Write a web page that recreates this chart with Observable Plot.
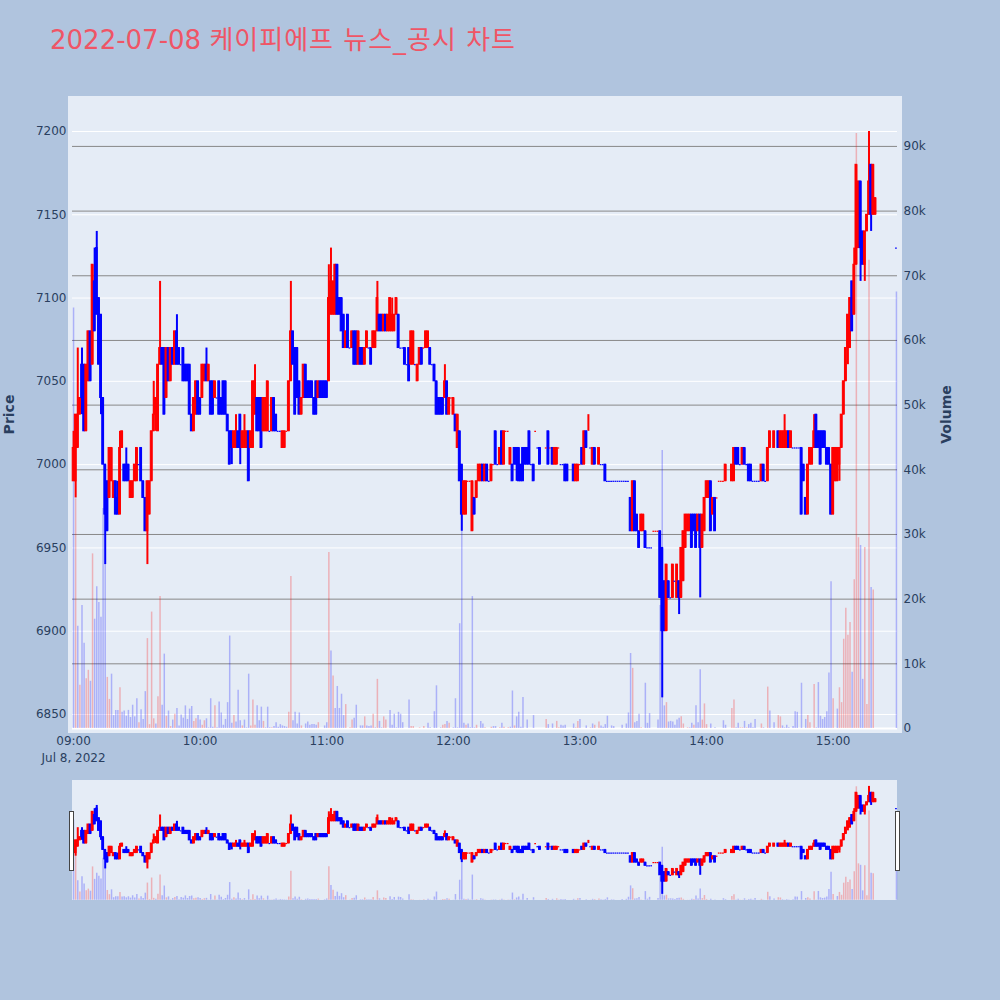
<!DOCTYPE html>
<html lang="ko"><head><meta charset="utf-8">
<script src="https://cdn.jsdelivr.net/npm/d3@7"></script>
<script src="https://cdn.jsdelivr.net/npm/@observablehq/plot@0.6"></script>
<style>
html,body{margin:0;padding:0;background:#B0C4DE;width:1000px;height:1000px;overflow:hidden}
#stage{position:relative;width:1000px;height:1000px;font-family:"DejaVu Sans","Noto Sans CJK KR",sans-serif}
#title{position:absolute;left:50px;top:22px;font-size:26px;line-height:36px;color:#EF5566;font-family:"DejaVu Sans","Noto Sans CJK KR",sans-serif;white-space:nowrap}
#title span{letter-spacing:1px}
.plate{position:absolute;background:#E5ECF6}
.grab{position:absolute;background:#fff;border:1px solid #444;box-sizing:border-box}
</style></head><body><div id="stage">
<div id="title">2022-07-08 <span>케이피에프 뉴스_공시 차트</span></div>
<div class="plate" style="left:68px;top:96px;width:834px;height:637px"></div>
<div class="plate" style="left:72px;top:780px;width:825px;height:120px"></div>
</div>
<script>
// rows: open, high, low, close, volume, volume colour (1 red, 0 blue); null = no trade in that minute
const hour09=[
[6990,7020,6990,7010,65000,0],[6990,7030,6980,7030,35500,1],[7010,7070,7010,7030,15800,0],[7030,7040,7030,7040,6700,1],[7060,7070,7030,7040,19000,0],[7060,7060,7020,7020,13200,0],[7020,7060,7020,7060,7700,1],[7050,7080,7050,7080,9000,1],[7080,7080,7050,7050,7300,0],[7060,7120,7060,7120,27000,1],
[7110,7130,7080,7080,16900,0],[7130,7140,7090,7090,21900,0],[7100,7100,7060,7060,19500,0],[7090,7090,7030,7040,17200,0],[7040,7040,7000,7000,34000,0],[7000,7000,6940,6970,25500,0],[6990,6990,6960,6960,7900,1],[6980,7010,6980,7010,4500,1],[6990,7010,6990,7010,8400,0],[6980,6990,6980,6990,2000,0],
[6990,6990,6970,6970,2800,0],[6980,6990,6970,6970,2800,0],[6970,7020,6970,7010,6300,1],[7010,7020,7010,7020,2500,0],[7000,7000,6990,6990,2700,0],[7000,7010,6990,6990,1900,0],[7000,7000,6990,6990,2800,0],[6980,6990,6980,6990,1700,0],[6980,6990,6980,6990,3600,0],[6990,7000,6990,7000,1800,0],
[6990,7010,6990,7010,4600,0],[7000,7000,7000,7000,900,1],[7010,7010,6990,6990,2900,0],[6990,6990,6980,6980,1400,0],[6980,6980,6960,6960,5700,0],[6960,6990,6940,6990,13900,1],[6970,6990,6970,6990,600,1],[6990,7020,6990,7020,18000,1],[7020,7050,7020,7030,1500,1],[7030,7040,7020,7040,700,0],
[7020,7060,7020,7060,4900,1],[7060,7110,7060,7070,20400,1],[7070,7070,7060,7060,3600,0],[7070,7070,7030,7030,11500,0],[7040,7070,7040,7070,1900,1],[7070,7070,7050,7050,2700,0],[7050,7070,7050,7070,300,1],[7070,7070,7060,7060,1300,0],[7060,7080,7060,7080,2200,1],[7080,7090,7060,7060,3100,0],
[7070,7070,7060,7060,400,0],[7060,7060,7060,7060,2100,0],[7070,7070,7050,7050,1600,0],[7060,7060,7050,7050,3500,0],[7060,7060,7050,7050,1400,0],[7060,7060,7030,7030,3000,0],[7030,7030,7020,7020,3400,0],[7020,7040,7020,7040,1100,1],[7030,7050,7030,7050,1500,1],[7050,7050,7030,7030,2000,0]];
const hour10=[
[7040,7040,7030,7030,1300,0],[7040,7060,7040,7060,500,1],[7050,7060,7050,7060,1200,1],[7060,7070,7050,7050,1500,0],[7050,7060,7050,7060,100,0],[7050,7050,7030,7030,4600,0],[7050,7050,7030,7030,200,0],[7040,7050,7040,7050,3500,1],[7040,7040,7040,7040,100,0],[7050,7050,7030,7030,4100,0],
[7040,7040,7030,7030,2400,0],[7050,7050,7030,7030,500,0],[7050,7050,7030,7030,1400,0],[7030,7030,7020,7020,4000,0],[7020,7020,7000,7000,14300,0],[7020,7020,7000,7010,800,0],[7010,7020,7010,7020,2000,1],[7010,7030,7010,7020,1000,0],[7020,7020,7010,7010,5900,0],[7030,7030,7000,7010,1200,0],
[7010,7020,7010,7020,400,1],[7010,7030,7010,7020,1300,0],[7010,7020,7010,7020,100,0],[7020,7020,6990,6990,8400,0],[7010,7020,7010,7020,400,1],[7010,7050,7010,7050,4400,1],[7030,7060,7030,7050,500,1],[7040,7040,7020,7020,3500,0],[7040,7040,7020,7020,1200,0],[7040,7040,7010,7010,3300,0],
[7020,7040,7020,7040,1100,1],[7020,7040,7020,7040,100,0],[7020,7050,7020,7050,3300,0],[7020,7020,7020,7020,100,0],[7020,7040,7020,7040,100,1],[7040,7040,7020,7020,300,0],[7030,7030,7020,7020,900,0],[7020,7020,7020,7020,200,0],[7020,7020,7020,7020,600,0],[7010,7020,7010,7020,400,0],
[7010,7020,7010,7020,300,0],[7020,7020,7020,7020,200,0],[7020,7050,7020,7050,2500,1],[7050,7110,7050,7080,23500,1],[7080,7080,7060,7060,1200,0],[7070,7070,7030,7030,2500,0],[7070,7070,7040,7040,700,0],[7050,7050,7030,7030,2400,0],[7030,7040,7030,7040,400,1],[7040,7060,7040,7060,0,1],
[7060,7060,7040,7040,700,0],[7050,7050,7040,7040,1000,0],[7050,7050,7040,7040,500,0],[7050,7050,7040,7040,600,0],[7040,7040,7030,7030,600,0],[7050,7050,7030,7030,500,0],[7040,7050,7040,7050,900,1],[7050,7050,7040,7040,0,0],[7050,7050,7040,7040,0,0],[7050,7050,7040,7040,400,0]];
const hour11=[
[7050,7050,7040,7040,900,0],[7050,7120,7050,7100,27200,1],[7090,7130,7090,7110,12000,0],[7090,7110,7090,7110,8100,1],[7090,7120,7090,7120,3100,0],[7120,7120,7090,7090,6500,0],[7100,7100,7090,7090,3100,0],[7100,7100,7080,7080,5300,0],[7090,7090,7070,7070,2000,0],[7070,7080,7070,7080,3700,1],
[7090,7090,7070,7070,0,0],[7070,7070,7070,7070,100,1],[7070,7080,7070,7080,1300,1],[7080,7080,7060,7060,1600,0],[7080,7080,7060,7060,3600,0],[7060,7080,7060,7080,0,1],[7070,7070,7060,7060,400,0],[7070,7070,7060,7060,400,0],[7060,7070,7060,7070,1800,1],[7070,7080,7070,7080,400,0],
[7070,7070,7070,7070,300,0],[7070,7070,7060,7060,400,0],[7070,7080,7070,7080,2200,1],[7070,7080,7070,7080,100,0],[7080,7110,7080,7100,7600,1],[7090,7090,7080,7080,1100,0],[7090,7090,7080,7080,100,0],[7080,7090,7080,7090,1800,1],[7090,7090,7080,7080,1300,1],[7080,7090,7080,7090,0,1],
[7080,7100,7080,7100,2800,0],[7080,7100,7080,7090,500,0],[7080,7090,7080,7090,2200,0],[7090,7100,7090,7100,100,0],[7090,7090,7070,7070,2500,0],[7070,7070,7070,7070,2200,0],[7070,7070,7070,7070,900,0],[7070,7070,7060,7060,0,0],[7060,7060,7060,7060,0,0],[7070,7070,7050,7050,4400,0],
[7060,7080,7060,7080,300,1],[7060,7080,7060,7080,300,1],[7060,7060,7060,7060,0,1],[7050,7060,7050,7060,0,1],[7060,7070,7060,7070,100,1],[7070,7070,7060,7060,0,1],[7070,7070,7070,7070,300,1],[7070,7080,7070,7080,0,0],[7070,7080,7070,7080,800,0],[7070,7070,7060,7060,100,0],
[7060,7060,7060,7060,0,0],[7060,7060,7050,7050,2600,0],[7050,7050,7030,7030,6600,0],[7040,7040,7030,7030,0,0],[7040,7040,7030,7030,100,0],[7040,7040,7030,7030,500,1],[7040,7060,7040,7050,600,1],[7050,7050,7030,7030,1100,0],[7030,7040,7030,7040,800,1],[7040,7040,7040,7040,0,1]];
const hour12=[
[7030,7040,7030,7040,100,0],[7030,7030,7020,7020,4600,0],[7010,7030,7010,7030,100,0],[7020,7020,6990,6990,16200,0],[7000,7000,6960,6970,34700,0],[6970,6990,6970,6990,800,0],[6970,6990,6970,6990,500,1],[6990,6990,6990,6990,700,0],[6990,6990,6990,6990,100,0],[6960,6990,6960,6990,20400,0],
[6980,6980,6970,6970,100,0],[6980,6990,6980,6990,500,1],[6990,7000,6990,7000,0,1],[6990,7000,6990,7000,1100,0],[7000,7000,6990,6990,700,0],[6990,7000,6990,7000,100,1],[7000,7000,6990,6990,0,0],[6990,6990,6990,6990,0,0],[6990,7000,6990,7000,200,1],[7000,7000,7000,7000,300,0],
[7020,7020,7000,7000,300,0],[7000,7000,7000,7000,0,0],[7000,7010,7000,7010,100,1],[7020,7020,7000,7000,800,0],[7000,7020,7000,7020,200,1],[7020,7020,7020,7020,0,1],[7020,7020,7020,7020,100,1],[7000,7010,7000,7010,200,0],[7000,7000,6990,6990,5800,0],[7010,7010,7000,7000,400,1],
[7010,7010,6990,7000,1800,0],[7010,7010,6990,6990,2500,0],[7000,7000,6990,6990,200,0],[7010,7010,6990,6990,4800,0],[7010,7010,7000,7000,0,0],[7010,7010,7000,7000,1300,0],[7020,7020,7000,7000,0,0],[7000,7000,7000,7000,0,0],[7000,7000,6990,6990,2000,0],[7020,7020,7020,7020,0,1],
[7010,7010,7010,7010,0,0],[7010,7010,7000,7000,0,0],null,null,[7010,7010,7010,7010,1400,1],[7020,7020,7000,7000,600,0],[7010,7010,7010,7010,0,1],[7010,7010,7000,7000,700,0],[7000,7010,7000,7010,0,1],[7000,7010,7000,7010,1100,1],
[7010,7010,7010,7010,100,1],[7000,7000,7000,7000,500,0],[7000,7000,7000,7000,400,0],[7000,7000,6990,6990,500,0],[7000,7000,6990,6990,0,0],null,null,[7000,7000,6990,6990,700,0],[6990,7000,6990,7000,100,1],[6990,7000,6990,7000,1100,1]];
const hour13=[
[7000,7000,7000,7000,1400,0],[7010,7010,7000,7000,0,0],[7000,7020,7000,7020,0,1],[7020,7020,7010,7010,400,0],[7020,7030,7020,7020,0,0],[7010,7010,7010,7010,100,1],[7000,7010,7000,7010,700,0],[7010,7010,7000,7000,500,1],null,[7000,7010,7000,7010,1000,1],
[7000,7000,7000,7000,400,0],[7000,7000,7000,7000,200,0],[7000,7000,6990,6990,600,0],[6990,6990,6990,6990,1900,0],[6990,6990,6990,6990,0,0],[6990,6990,6990,6990,400,0],[6990,6990,6990,6990,300,0],[6990,6990,6990,6990,0,0],[6990,6990,6990,6990,0,0],[6990,6990,6990,6990,0,0],
[6990,6990,6990,6990,500,0],[6990,6990,6990,6990,0,0],[6990,6990,6990,6990,700,0],[6990,6990,6990,6990,2400,0],[6980,6980,6960,6960,11600,0],[6960,6990,6960,6990,9300,1],[6990,6990,6960,6960,900,0],[6970,6970,6960,6960,1100,0],[6960,6960,6950,6950,2200,0],[6960,6970,6960,6970,100,1],
[6960,6970,6960,6970,0,1],[6960,6960,6950,6950,7000,0],[6950,6950,6950,6950,800,0],[6950,6950,6950,6950,2300,0],[6950,6950,6950,6950,0,0],[6960,6960,6960,6960,0,1],[6960,6960,6960,6960,0,1],[6960,6960,6960,6960,1300,0],[6960,6960,6920,6920,19000,0],[6950,6950,6860,6900,43000,0],
[6930,6930,6900,6900,3500,0],[6900,6940,6900,6940,4000,1],[6930,6930,6920,6920,1000,0],[6920,6920,6920,6920,1100,0],[6920,6940,6920,6940,1000,0],[6930,6930,6930,6930,500,0],[6920,6940,6920,6940,1300,0],[6930,6930,6910,6920,1600,0],[6920,6950,6920,6950,1800,1],[6930,6960,6930,6960,700,1],
[6950,6970,6950,6970,0,1],[6960,6970,6960,6970,100,1],[6960,6970,6960,6970,100,0],[6970,6970,6950,6950,800,0],[6970,6970,6960,6960,500,1],[6970,6970,6950,6950,3500,0],[6960,6970,6960,6970,900,0],[6970,6970,6920,6950,9100,0],[6950,6970,6950,6970,1300,1],[6960,6980,6960,6980,3800,1]];
const hour14=[
[6980,6990,6980,6990,600,1],[6980,6990,6980,6990,0,1],[6990,6990,6960,6960,700,0],[6970,6980,6970,6980,0,1],[6980,6980,6960,6960,100,0],[6980,6980,6980,6980,0,1],[6990,6990,6990,6990,0,1],[6990,6990,6990,6990,0,1],[6990,6990,6990,6990,1200,0],[6990,7000,6990,7000,500,0],
null,null,[6990,7000,6990,7000,3100,1],[6990,7010,6990,7010,4400,1],[7010,7010,7000,7000,100,0],[7010,7010,7000,7000,800,0],[7000,7000,7000,7000,100,1],[7000,7010,7000,7010,100,1],[7010,7010,7000,7000,1100,0],[7000,7000,7000,7000,100,1],
[7000,7000,6990,6990,600,0],[7000,7000,6990,6990,800,0],[6990,6990,6990,6990,100,0],[6990,6990,6990,6990,1400,0],[6990,6990,6990,6990,0,0],[6990,6990,6990,6990,0,0],[6990,7000,6990,7000,700,1],[7000,7000,6990,6990,100,0],[6990,6990,6990,6990,0,0],[6990,7010,6990,7010,6400,1],
[7010,7020,7010,7020,2700,0],null,[7010,7020,7010,7020,900,0],null,[7020,7020,7010,7010,2000,1],[7010,7020,7010,7020,1800,1],[7010,7020,7010,7020,400,0],[7010,7030,7010,7020,100,0],[7010,7020,7010,7020,500,0],[7020,7020,7010,7010,100,0],
[7010,7020,7010,7020,0,0],[7010,7010,7010,7010,300,0],[7010,7010,7010,7010,2600,0],[7010,7010,7010,7010,2500,0],[7010,7010,7010,7010,0,0],[7010,7010,6970,6970,7000,0],[7000,7000,6990,6990,0,0],[6980,6980,6970,6970,1400,0],[6970,7000,6970,7000,2000,1],[7000,7010,7000,7010,900,1],
[7000,7010,7000,7010,0,1],[7010,7030,7010,7020,6800,1],[7030,7030,7010,7010,100,0],[7020,7020,7010,7010,7100,0],[7020,7020,7000,7000,1900,0],[7020,7020,7010,7010,1400,0],[7020,7020,7010,7010,1700,0],[7010,7010,7000,7000,2600,0],[7010,7010,7000,7000,8600,0],[7000,7000,6970,6970,22700,0]];
const hour15=[
[6970,7010,6970,7010,4600,1],[6990,7010,6990,7010,0,1],[6990,7010,6990,7010,3000,0],[7000,7010,6990,7010,6300,1],[7010,7030,7010,7030,4000,1],[7030,7050,7030,7050,13800,1],[7050,7070,7050,7070,18600,1],[7070,7090,7060,7090,14400,1],[7070,7100,7070,7100,16400,1],[7110,7110,7080,7080,8700,0],
[7090,7130,7090,7120,23000,1],[7120,7180,7120,7180,92000,1],[7130,7170,7130,7170,29500,1],[7170,7170,7110,7130,28300,0],[7140,7140,7120,7120,7600,0],[7120,7140,7110,7140,28000,1],[7140,7150,7140,7150,3700,1],[7150,7200,7150,7170,72400,1],[7180,7180,7140,7150,21800,0],[7150,7180,7150,7180,21400,1],
[7150,7160,7150,7160,0,1]];
const closingAuction=[7130,7130,7130,7130,67500,0];

const priceTicks=[6850,6900,6950,7000,7050,7100,7150,7200];
const volumeTicks=[10000,20000,30000,40000,50000,60000,70000,80000,90000];
const hourLabels=[9,10,11,12,13,14,15];
const dateLabel="Jul 8, 2022";

const UP="#FF0000",DOWN="#0000FF",INK="#2a3f5f";
const at=(h,m,s=0)=>new Date(Date.UTC(2022,6,8,h,m,s));
const rows=[];
[[9,hour09],[10,hour10],[11,hour11],[12,hour12],[13,hour13],[14,hour14],[15,hour15]].forEach(([h,list])=>{
  list.forEach((r,i)=>{if(r)rows.push({t:at(h,i),r});});
});
rows.push({t:at(15,30),r:closingAuction});
// candle direction: a flat minute follows the previous close, then the previous direction
let prevClose=null,prevUp=true;
const candles=rows.map(({t,r})=>{
  const [open,high,low,close,volume,side]=r;
  let up;
  if(close!==open)up=close>open;
  else if(prevClose!==null&&close!==prevClose)up=close>prevClose;
  else up=prevUp;
  prevClose=close;prevUp=up;
  return {t,t1:new Date(+t-24000),t2:new Date(+t+24000),open,high,low,close,volume,barColor:side?UP:DOWN,color:up?UP:DOWN};
});
const moved=candles.filter(d=>d.open!==d.close);
const flat=candles.filter(d=>d.open===d.close&&d.high===d.low);

const xDomain=[at(8,59,30),at(15,30,30)];
const priceDomain=[6841.6,7218.6];
const volumeDomain=[0,97100];
const frame=(top,bottom)=>({width:1000,height:1000,marginLeft:72,marginRight:103,marginTop:top,marginBottom:bottom,
  style:{background:"transparent",position:"absolute",left:"0",top:"0",maxWidth:"none",fontFamily:'"DejaVu Sans",sans-serif',fontSize:"12px",color:INK,overflow:"visible"}});
const xOpt={type:"utc",domain:xDomain,axis:null};
const hours=hourLabels.map(h=>at(h,0));
const candleMarks=()=>[
  Plot.ruleX(candles.filter(d=>d.high!==d.low),{x:"t",y1:"low",y2:"high",stroke:"color",strokeWidth:2}),
  Plot.rect(moved,{x1:"t1",x2:"t2",y1:"open",y2:"close",fill:"color",stroke:"color",strokeWidth:1}),
  Plot.ruleY(flat,{y:"close",x1:"t1",x2:"t2",stroke:"color",strokeWidth:1.2})
];
const volumeMarks=()=>[
  Plot.ruleX(candles,{x:"t",y1:0,y2:"volume",stroke:"barColor",strokeWidth:1.5,strokeOpacity:.25})
];
const stage=document.getElementById("stage");
const add=(opts)=>stage.appendChild(Plot.plot(opts));

// main panel: price grid and axes
add({...frame(100,272),x:xOpt,y:{domain:priceDomain,axis:null},color:{type:"identity"},marks:[
  Plot.ruleY(priceTicks,{stroke:"#fff",strokeWidth:1}),
  Plot.axisY({ticks:priceTicks,tickSize:0,tickPadding:6,label:null,fill:INK,tickFormat:d=>String(d)}),
  Plot.axisX({ticks:hours,tickSize:0,tickPadding:8,label:null,fill:INK,tickFormat:d3.utcFormat("%H:%M")}),
  Plot.text([dateLabel],{x:()=>hours[0],y:()=>priceDomain[0],dy:30,fill:INK,fontSize:12}),
  Plot.text(["Price"],{frameAnchor:"left",dx:-63,rotate:-90,textAnchor:"middle",fill:INK,fontSize:14,fontWeight:600})
]});
// main panel: volume on the right-hand axis
add({...frame(100,272),x:xOpt,y:{domain:volumeDomain,axis:null},color:{type:"identity"},marks:[
  Plot.ruleY([0],{stroke:"#fff",strokeWidth:2}),
  Plot.ruleY(volumeTicks,{stroke:"#888",strokeWidth:1}),
  ...volumeMarks(),
  Plot.axisY({anchor:"right",ticks:[0,...volumeTicks],tickSize:0,tickPadding:6,label:null,fill:INK,tickFormat:d=>d===0?"0":d/1000+"k"}),
  Plot.text(["Volume"],{frameAnchor:"right",dx:49,rotate:-90,textAnchor:"middle",fill:INK,fontSize:14,fontWeight:600})
]});
// main panel: candles
add({...frame(100,272),x:xOpt,y:{domain:priceDomain,axis:null},color:{type:"identity"},marks:candleMarks()});
// range slider
add({...frame(780,100.3),x:xOpt,y:{domain:volumeDomain,axis:null},color:{type:"identity"},marks:volumeMarks()});
add({...frame(780,100.3),x:xOpt,y:{domain:priceDomain,axis:null},color:{type:"identity"},marks:candleMarks()});

[[69,811],[895,811]].forEach(([l,t])=>{
  const g=document.createElement("div");g.className="grab";
  g.style.cssText=`left:${l}px;top:${t}px;width:5px;height:60px`;stage.appendChild(g);
});
</script></body></html>
